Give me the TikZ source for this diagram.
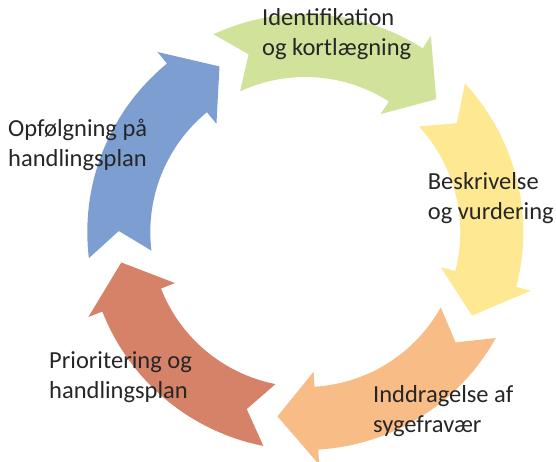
\documentclass[tikz,border=0pt]{standalone}
\usepackage{fontspec}
\setmainfont{Carlito}
\definecolor{stepgreen}{RGB}{209,226,155}
\definecolor{stepyellow}{RGB}{254,232,146}
\definecolor{steporange}{RGB}{248,188,135}
\definecolor{stepred}{RGB}{213,130,105}
\definecolor{stepblue}{RGB}{124,158,209}
\definecolor{labelgray}{RGB}{38,38,38}

\begin{document}
\begin{tikzpicture}[x=1pt, y=1pt,
    phase/.style={draw=none, shift={(c)}},
    caption/.style={anchor=base west, align=left, inner sep=0pt,
    text=labelgray, font=\fontsize{24.5}{30}\selectfont}]

    \useasboundingbox (0,0) rectangle (556,462);
    \coordinate (c) at (305.3,230);

    \fill[phase, stepgreen] (114.9:218pt) arc[start angle=114.9, end angle=57.4, radius=218pt]
      -- (57.4:233pt) -- (45.4:186.5pt) -- (57.4:140pt) -- (57.4:155pt)
      arc[start angle=57.4, end angle=114.9, radius=155pt] -- (107.7:186.5pt) -- cycle;
    \fill[phase, stepyellow] (42.9:218pt) arc[start angle=42.9, end angle=-14.6, radius=218pt]
      -- (-14.6:233pt) -- (-26.6:186.5pt) -- (-14.6:140pt) -- (-14.6:155pt)
      arc[start angle=-14.6, end angle=42.9, radius=155pt] -- (35.7:186.5pt) -- cycle;
    \fill[phase, steporange] (-29.1:218pt) arc[start angle=-29.1, end angle=-86.6, radius=218pt]
      -- (-86.6:233pt) -- (-98.6:186.5pt) -- (-86.6:140pt) -- (-86.6:155pt)
      arc[start angle=-86.6, end angle=-29.1, radius=155pt] -- (-36.3:186.5pt) -- cycle;
    \fill[phase, stepred] (-101.1:218pt) arc[start angle=-101.1, end angle=-158.6, radius=218pt]
      -- (-158.6:233pt) -- (-170.6:186.5pt) -- (-158.6:140pt) -- (-158.6:155pt)
      arc[start angle=-158.6, end angle=-101.1, radius=155pt] -- (-108.3:186.5pt) -- cycle;
    \fill[phase, stepblue] (186.9:218pt) arc[start angle=186.9, end angle=129.4, radius=218pt]
      -- (129.4:233pt) -- (117.4:186.5pt) -- (129.4:140pt) -- (129.4:155pt)
      arc[start angle=129.4, end angle=186.9, radius=155pt] -- (179.7:186.5pt) -- cycle;

    \node[caption] (ident) at (262,406.5) {Identifikation\\og kortlægning};
    \node[caption] (beskr) at (427.7,242) {Beskrivelse\\og vurdering};
    \node[caption] (inddr) at (373,29) {Inddragelse af\\sygefravær};
    \node[caption] (prior) at (49,63) {Prioritering og\\handlingsplan};
    \node[caption] (opfoel) at (8,295.3) {Opfølgning på\\handlingsplan};
  \end{tikzpicture}
\end{document}
